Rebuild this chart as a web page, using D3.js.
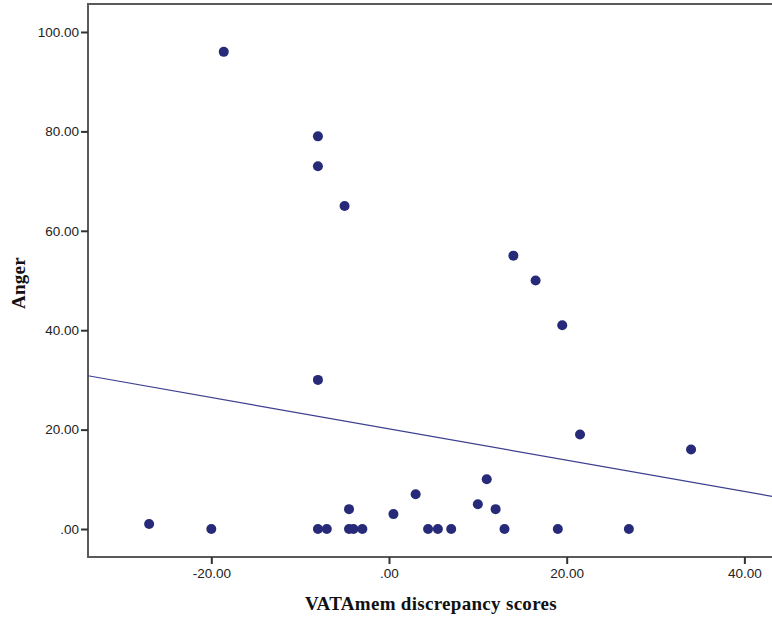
<!DOCTYPE html>
<html>
<head>
<meta charset="utf-8">
<script src="https://cdn.jsdelivr.net/npm/d3@7"></script>
<style>
  body { margin: 0; background: #fff; }
  svg { display: block; }
</style>
</head>
<body>
<div id="grafico"></div>
<script>
const WIDTH = 772;
const HEIGHT = 619;

// data
const discrepancy = [-27, -20, -18.6, -8, -8, -5, -8, -8, -7, -4.5, -4.5, -4, -3,
  0.5, 3, 4.4, 5.5, 7, 10, 11, 12, 13, 14, 16.5, 19.5, 19, 21.5, 27, 34];
const anger = [1, 0, 96, 79, 73, 65, 30, 0, 0, 4, 0, 0, 0,
  3, 7, 0, 0, 0, 5, 10, 4, 0, 55, 50, 41, 0, 19, 0, 16];
const xTicks = [-20, 0, 20, 40];
const yTicks = [0, 20, 40, 60, 80, 100];
// fit line
const fitIntercept = 20.16;
const fitSlope = -0.315;

const plotLeft = 88, plotTop = 4, plotRight = 776, plotBottom = 557;

let svg = d3.select("#grafico")
    .append("svg")
    .attr("width", WIDTH)
    .attr("height", HEIGHT);

let x = d3.scaleLinear().domain([-33.88, 43.56]).range([plotLeft, plotRight]);
let y = d3.scaleLinear().domain([-5.63, 105.63]).range([plotBottom, plotTop]);

let locale = d3.formatLocale({decimal: ".", thousands: ",", grouping: [3], currency: ["", ""], minus: "-"});
let fmt = (d) => {
    let s = locale.format(".2f")(d);
    return s.replace(/^0\./, ".").replace(/^-0\./, "-.");
};

// frame
svg.append("rect")
    .attr("x", plotLeft)
    .attr("y", plotTop)
    .attr("width", plotRight - plotLeft)
    .attr("height", plotBottom - plotTop)
    .style("fill", "none")
    .style("stroke", "#5a5a5a")
    .style("stroke-width", 2);

let xAxis = svg.append("g")
    .attr("transform", `translate(0,${plotBottom})`)
    .call(d3.axisBottom(x).tickValues(xTicks).tickFormat(fmt).tickSizeInner(7).tickSizeOuter(0).tickPadding(4));

let yAxis = svg.append("g")
    .attr("transform", `translate(${plotLeft},0)`)
    .call(d3.axisLeft(y).tickValues(yTicks).tickFormat(fmt).tickSizeInner(7).tickSizeOuter(0).tickPadding(2));

[xAxis, yAxis].forEach((a) => {
    a.select(".domain").remove();
    a.selectAll(".tick line").style("stroke", "#333").style("stroke-width", 2);
    a.selectAll(".tick text")
        .style("font-family", "Arial, 'Liberation Sans', sans-serif")
        .style("font-size", "13.5px")
        .style("fill", "#222");
});

// fit line
let xd = x.domain();
svg.append("line")
    .attr("x1", x(xd[0]))
    .attr("y1", y(fitIntercept + fitSlope * xd[0]))
    .attr("x2", x(xd[1]))
    .attr("y2", y(fitIntercept + fitSlope * xd[1]))
    .style("stroke", "#3c3f8f")
    .style("stroke-width", 1.2);

// points
svg.selectAll(".dot")
    .data(discrepancy.map((d, i) => [d, anger[i]]))
    .enter()
    .append("circle")
    .attr("class", "dot")
    .attr("cx", (d) => x(d[0]))
    .attr("cy", (d) => y(d[1]))
    .attr("r", 5)
    .style("fill", "#262a78");

// axis titles
svg.append("text")
    .attr("x", 431)
    .attr("y", 610)
    .attr("text-anchor", "middle")
    .style("font-family", "'Liberation Serif', 'Times New Roman', serif")
    .style("font-weight", "bold")
    .style("font-size", "19px")
    .style("letter-spacing", "0.3px")
    .style("fill", "#111")
    .text("VATAmem discrepancy scores");

svg.append("text")
    .attr("transform", "translate(25,283) rotate(-90)")
    .attr("text-anchor", "middle")
    .style("font-family", "'Liberation Serif', 'Times New Roman', serif")
    .style("font-weight", "bold")
    .style("font-size", "19px")
    .style("letter-spacing", "0.3px")
    .style("fill", "#111")
    .text("Anger");
</script>
</body>
</html>
